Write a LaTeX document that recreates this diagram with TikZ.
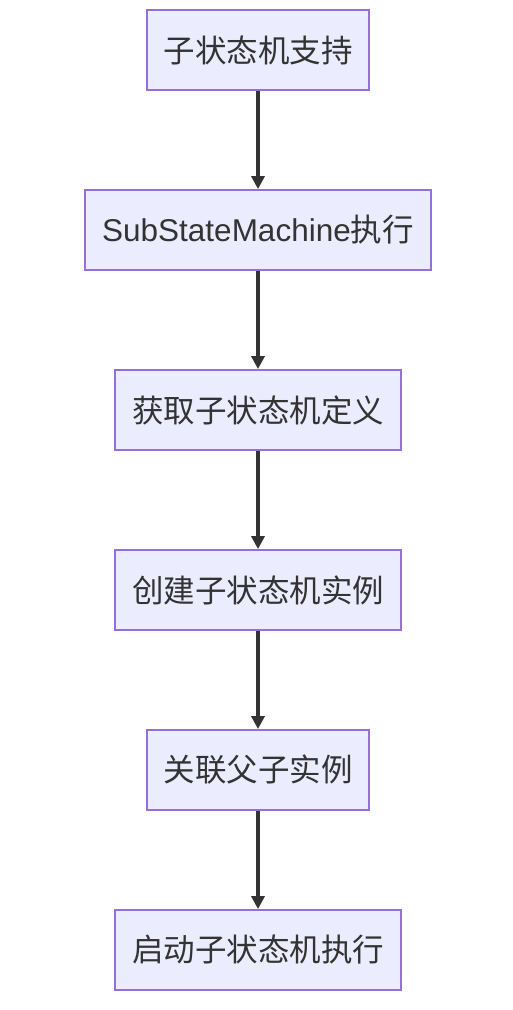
\documentclass[tikz,border=0pt]{standalone}
\usepackage{fontspec}
\setmainfont{Liberation Sans}
\newfontfamily\cjk{Noto Sans CJK SC}
\usetikzlibrary{arrows.meta}
\definecolor{nodefill}{HTML}{ECECFF}
\definecolor{nodeline}{HTML}{9370DB}
\definecolor{ink}{HTML}{333333}
\begin{document}
\begin{tikzpicture}[x=1pt,y=-1pt,
  box/.style={draw=nodeline,fill=nodefill,line width=1.8pt,minimum height=80pt,inner sep=0pt,text=ink,font=\fontsize{31.5}{34}\selectfont\cjk},
  flow/.style={draw=ink,line width=3.2pt,-{Triangle[length=13pt,width=13pt]}}]
\useasboundingbox (0,0) rectangle (512,1010);
\node[box,minimum width=222pt] (a) at (258,50) {子状态机支持};
\node[box,minimum width=346pt] (b) at (258,230) {\fontspec{Liberation Sans}SubStateMachine\cjk 执行};
\node[box,minimum width=286pt] (c) at (258,410) {获取子状态机定义};
\node[box,minimum width=286pt] (d) at (258,590) {创建子状态机实例};
\node[box,minimum width=222pt] (e) at (258,770) {关联父子实例};
\node[box,minimum width=286pt] (f) at (258,950) {启动子状态机执行};
\draw[flow] (a) -- (b);
\draw[flow] (b) -- (c);
\draw[flow] (c) -- (d);
\draw[flow] (d) -- (e);
\draw[flow] (e) -- (f);
\end{tikzpicture}
\end{document}
